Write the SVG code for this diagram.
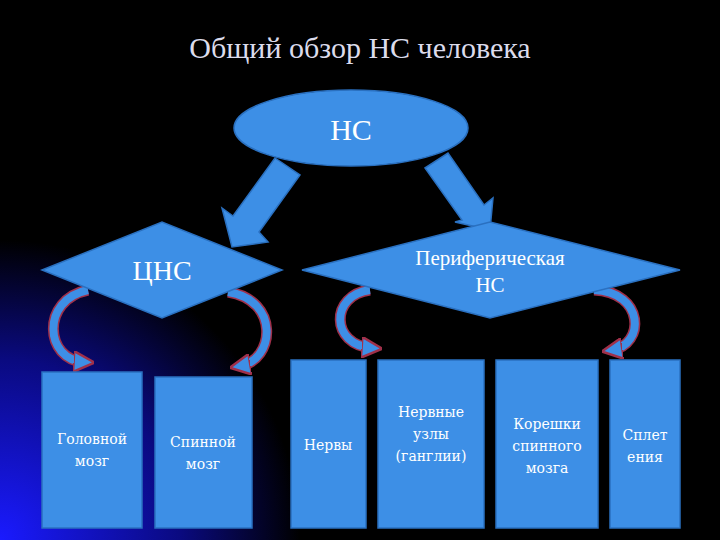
<svg xmlns="http://www.w3.org/2000/svg" width="720" height="540" viewBox="0 0 720 540">
<defs>
<radialGradient id="glow" cx="0" cy="540" r="300" gradientUnits="userSpaceOnUse">
<stop offset="0" stop-color="#1a1aff"/><stop offset="0.6" stop-color="#0a0a80"/><stop offset="1" stop-color="#000"/>
</radialGradient>
<marker id="ah" viewBox="0 0 10 10" refX="5" refY="5" markerWidth="2.6" markerHeight="2.6" orient="auto" markerUnits="strokeWidth">
<path d="M0,0 L10,5 L0,10 Z" fill="#3d8fe6" stroke="#a0304a" stroke-width="1.2"/>
</marker>
</defs>
<style>
.shape{fill:#3d8fe6;stroke:#2a70c0;stroke-width:1.5}
.t{font-family:"Liberation Serif",serif;fill:#fff;text-anchor:middle}
.b{font-family:"DejaVu Serif","Liberation Serif",serif;fill:#fff;text-anchor:middle;font-size:14px}
.cu{fill:none;stroke:#3d8fe6;stroke-width:8}
.co{fill:none;stroke:#a0304a;stroke-width:11}
</style>
<rect width="720" height="540" fill="#000"/>
<rect width="720" height="540" fill="url(#glow)"/>
<text x="360" y="58" class="t" font-size="30" fill="#dcdcec" style="fill:#dcdcec">Общий обзор НС человека</text>
<g id="connectors">
<polygon class="shape" points="275,158 300,175 259,232 268,242 232,247 222,208 233,216"/>
<polygon class="shape" points="425,168 448,153 484,205 493,198 490,230 455,222 462,220"/>
<path class="co" d="M88,290 C40,300 45,360 84,362"/>
<path class="cu" d="M88,290 C40,300 45,360 84,362" marker-end="url(#ah)"/>
<path class="co" d="M228,292 C280,300 275,360 240,366"/>
<path class="cu" d="M228,292 C280,300 275,360 240,366" marker-end="url(#ah)"/>
<path class="co" d="M370,290 C330,295 330,345 372,348"/>
<path class="cu" d="M370,290 C330,295 330,345 372,348" marker-end="url(#ah)"/>
<path class="co" d="M594,290 C645,292 645,345 612,350"/>
<path class="cu" d="M594,290 C645,292 645,345 612,350" marker-end="url(#ah)"/>
</g>
<g id="ns"><ellipse class="shape" cx="351" cy="128" rx="117" ry="38"/><text x="351" y="140" class="t" font-size="30">НС</text></g>
<g id="cns"><polygon class="shape" points="42,270 162,222 282,270 162,318"/><text x="162" y="280" class="t" font-size="28">ЦНС</text></g>
<g id="pns"><polygon class="shape" points="302,270 490,222 680,270 490,318"/><text x="490" y="265" class="t" font-size="21">Периферическая</text><text x="490" y="292" class="t" font-size="21">НС</text></g>
<g id="brain"><rect class="shape" x="42" y="372" width="100" height="156"/><text x="92" y="444" class="b">Головной</text><text x="92" y="466" class="b">мозг</text></g>
<g id="spinal"><rect class="shape" x="155" y="377" width="97" height="151"/><text x="203" y="447" class="b">Спинной</text><text x="203" y="469" class="b">мозг</text></g>
<g id="nerves"><rect class="shape" x="291" y="360" width="75" height="168"/><text x="328" y="450" class="b">Нервы</text></g>
<g id="ganglia"><rect class="shape" x="378" y="360" width="106" height="168"/><text x="431" y="417" class="b">Нервные</text><text x="431" y="439" class="b">узлы</text><text x="431" y="461" class="b">(ганглии)</text></g>
<g id="roots"><rect class="shape" x="496" y="360" width="102" height="168"/><text x="547" y="429" class="b">Корешки</text><text x="547" y="451" class="b">спинного</text><text x="547" y="473" class="b">мозга</text></g>
<g id="plexus"><rect class="shape" x="610" y="360" width="70" height="168"/><text x="645" y="440" class="b">Сплет</text><text x="645" y="462" class="b">ения</text></g>
</svg>
